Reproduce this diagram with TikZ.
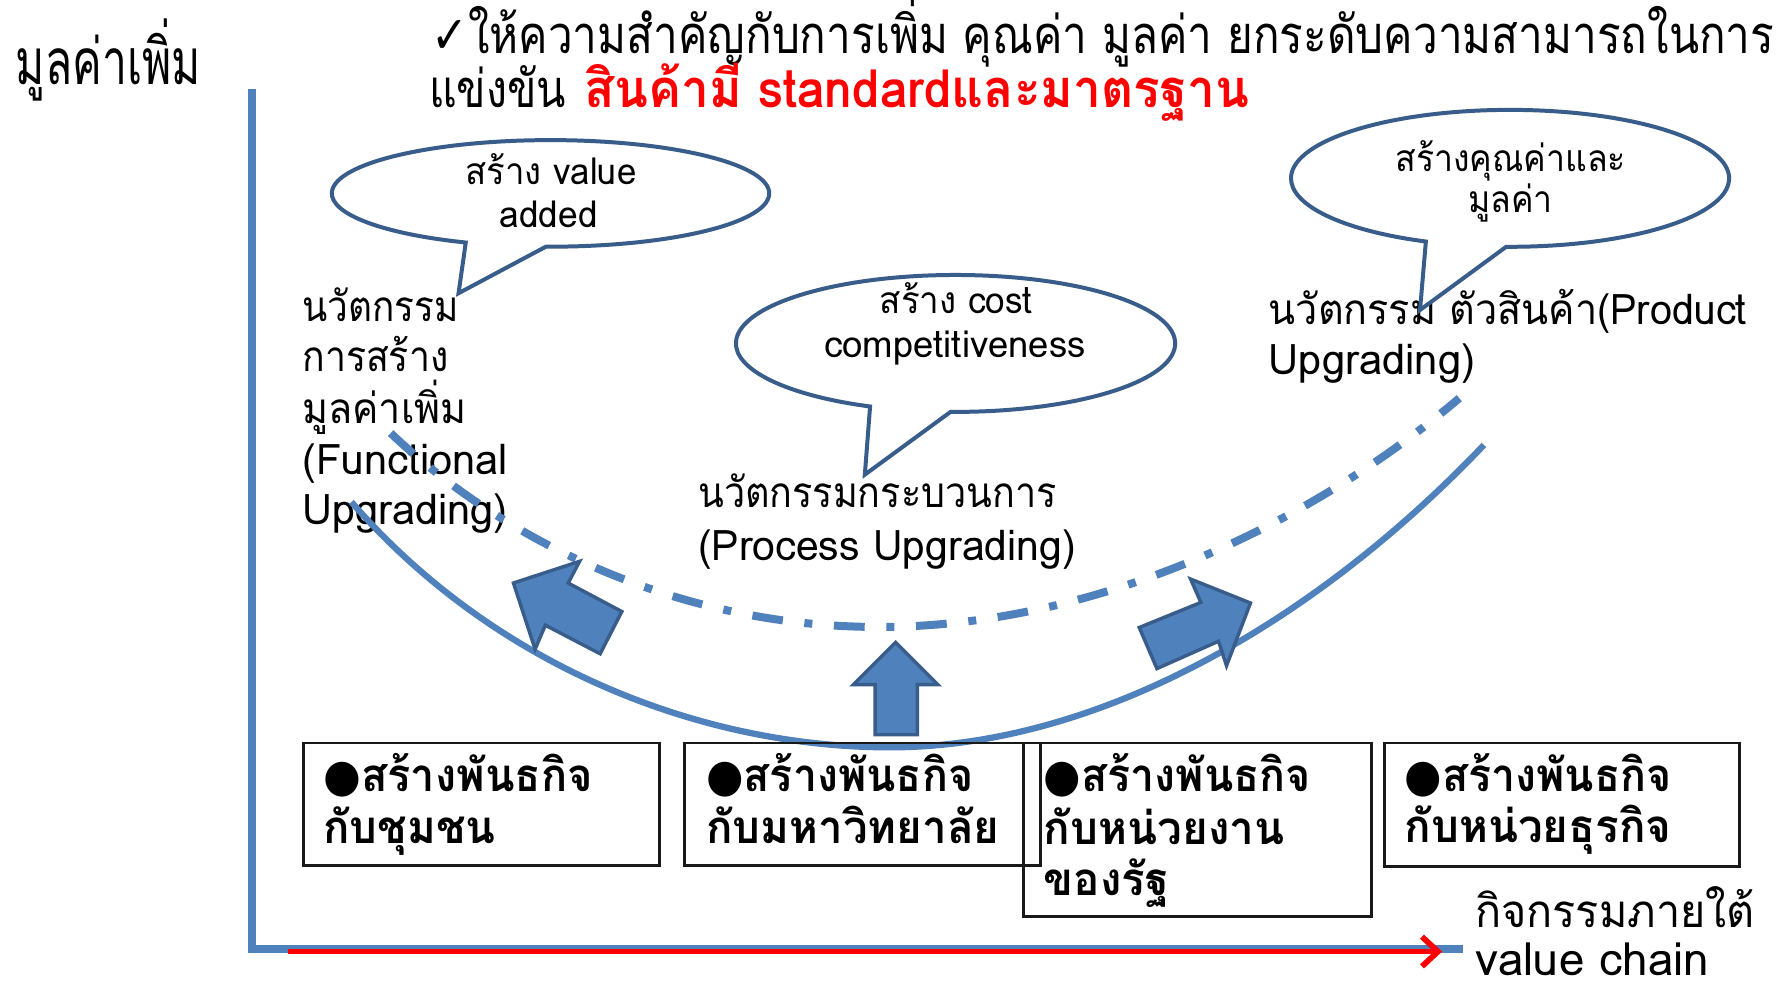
\documentclass[tikz,border=0pt]{standalone}
\usepackage{fontspec}
\usepackage{graphicx}
\usetikzlibrary{arrows.meta}
\setmainfont[Script=Thai]{Loma}
\newfontfamily\symfont{DejaVu Sans}
\definecolor{axblue}{HTML}{4F81BD}
\definecolor{dkblue}{HTML}{385D8A}
\newcommand{\fitw}[2]{\resizebox{#1pt}{\height}{#2}}
\begin{document}
\begin{tikzpicture}[x=1pt,y=-1pt,
  txt/.style={inner sep=0pt, outer sep=0pt, anchor=base west},
  ctxt/.style={inner sep=0pt, outer sep=0pt, anchor=base},
  lab/.style={txt, font=\fontsize{37}{44}\selectfont},
  bub/.style={ctxt, font=\fontsize{32.5}{39}\selectfont},
  boxtxt/.style={txt, font=\fontsize{40}{45}\selectfont\bfseries},
  ttl/.style={txt, font=\fontsize{46}{50}\selectfont},
  axl/.style={txt, font=\fontsize{40}{47}\selectfont},
  bubst/.style={draw=dkblue, fill=white, line width=3.5pt, line join=miter},
  blk/.style={draw=dkblue, fill=axblue, line width=3pt, line join=miter},
  boxst/.style={draw=black!90, line width=2.5pt, inner sep=0pt, anchor=north west},
  solidarc/.style={draw=axblue, line width=5.5pt},
  dasharc/.style={draw=axblue, line width=7pt, dash pattern=on 27pt off 19pt on 7pt off 19pt}
]
\useasboundingbox (0,0) rectangle (1568,870);
\fill[white] (0,0) rectangle (1568,870);

% axes
\coordinate (ytop) at (221,78);
\coordinate (orig) at (221,832);
\coordinate (xend) at (1282,832);
\coordinate (rstart) at (252,834);
\coordinate (rend) at (1264,834);
\draw[axblue, line width=6.5pt] (ytop) -- (221,835);
\draw[axblue, line width=7pt] (orig) -- (xend);
\draw[red, line width=5pt, -{Straight Barb[length=14pt,width=26pt]}] (rstart) -- (rend);

% title
\node[ttl] (ttl1) at (378,47) {\fitw{1177}{{\symfont ✓}ให้ความสำคัญกับการเพิ่ม คุณค่า มูลค่า ยกระดับความสามารถในการ}};
\node[ttl] (ttl2a) at (376,94) {\fitw{120}{แข่งขัน}};
\node[ttl, text=red, font=\fontsize{46}{50}\selectfont\bfseries] (ttl2b) at (512,94) {\fitw{583}{สินค้ามี standardและมาตรฐาน}};
\node[txt, font=\fontsize{56}{60}\selectfont] (ylab) at (14,74) {\fitw{162}{มูลค่าเพิ่ม}};
\node[axl] (xlab1) at (1293,813) {\fitw{245}{กิจกรรมภายใต้}};
\node[axl] (xlab2) at (1293,855) {\fitw{205}{value chain}};

% labels
\node[lab] (fu1) at (265,282) {\fitw{137}{นวัตกรรม}};
\node[lab] (fu2) at (265,326) {\fitw{128}{การสร้าง}};
\node[lab] (fu3) at (265,371) {\fitw{144}{มูลค่าเพิ่ม}};
\node[lab] (fu4) at (265,416) {\fitw{180}{(Functional}};
\node[lab] (fu5) at (265,460) {\fitw{180}{Upgrading)}};
\node[lab] (pr1) at (612,445) {\fitw{314}{นวัตกรรมกระบวนการ}};
\node[lab] (pr2) at (612,491) {\fitw{331}{(Process Upgrading)}};
\node[lab] (pd1) at (1112,284) {\fitw{419}{นวัตกรรม ตัวสินค้า(Product}};
\node[lab] (pd2) at (1112,328) {\fitw{181}{Upgrading)}};

% bubbles
\path[bubst] (482.5,169.5) ++(91.2:191.7 and 46.7)
  arc[start angle=91.2, end angle=-247.2, x radius=191.7, y radius=46.7]
  -- (401.9,257) -- cycle;
\path[bubst] (837.5,301) ++(91.3:192.5 and 60)
  arc[start angle=91.3, end angle=-247.1, x radius=192.5, y radius=60]
  -- (758,416) -- cycle;
\path[bubst] (1323.5,156.3) ++(91:192 and 60)
  arc[start angle=91, end angle=-247.4, x radius=192, y radius=60]
  -- (1244.6,271.7) -- cycle;
\node[bub] (bA1) at (483,162) {\fitw{150}{สร้าง value}};
\node[bub] (bA2) at (481,199) {\fitw{86}{added}};
\node[bub] (bB1) at (838,274.5) {\fitw{134}{สร้าง cost}};
\node[bub] (bB2) at (837,313.5) {\fitw{229}{competitiveness}};
\node[bub] (bC1) at (1324,150) {\fitw{202}{สร้างคุณค่าและ}};
\node[bub] (bC2) at (1324,186) {\fitw{74}{มูลค่า}};

% arcs
\draw[solidarc] (308,440) .. controls (434.4,585.4) and (616.3,655) .. (780,655)
  .. controls (960,655) and (1150.6,547.5) .. (1300.6,390);
\draw[dasharc] (342.4,379.6) .. controls (444.7,476.8) and (598,549.5) .. (770,549.5)
  .. controls (960,549.5) and (1149,459.5) .. (1279,349);

% block arrows
\path[blk] (450,511) -- (508,492) -- (498,511) -- (545,536) -- (526,573) -- (478,548) -- (469,569) -- cycle;
\path[blk] (785,563) -- (822,600) -- (804,600) -- (804,644) -- (767,644) -- (767,600) -- (748,600) -- cycle;
\path[blk] (1096,528.5) -- (1043.5,507.5) -- (1052.5,528) -- (998.5,550) -- (1014,586) -- (1068,562) -- (1075,583.5) -- cycle;

% boxes
\node[boxst, minimum width=312pt, minimum height=107pt] (box1) at (265,650) {};
\node[boxst, minimum width=312pt, minimum height=107pt] (box2) at (599,650) {};
\node[boxst, minimum width=305pt, minimum height=152pt] (box3) at (896,650) {};
\node[boxst, minimum width=311pt, minimum height=108pt] (box4) at (1212,650) {};

\node[boxtxt] (k1a) at (283.5,694) {\fitw{236}{{\symfont ●}สร้างพันธกิจ}};
\node[boxtxt] (k1b) at (283.5,739) {\fitw{151}{กับชุมชน}};
\node[boxtxt] (k2a) at (619,694) {\fitw{234}{{\symfont ●}สร้างพันธกิจ}};
\node[boxtxt] (k2b) at (619,739) {\fitw{257}{กับมหาวิทยาลัย}};
\node[boxtxt] (k3a) at (915,694) {\fitw{234}{{\symfont ●}สร้างพันธกิจ}};
\node[boxtxt] (k3b) at (915,740) {\fitw{211}{กับหน่วยงาน}};
\node[boxtxt] (k3c) at (915,784.5) {\fitw{110}{ของรัฐ}};
\node[boxtxt] (k4a) at (1231,694) {\fitw{234}{{\symfont ●}สร้างพันธกิจ}};
\node[boxtxt] (k4b) at (1231,738) {\fitw{234}{กับหน่วยธุรกิจ}};
\end{tikzpicture}
\end{document}
